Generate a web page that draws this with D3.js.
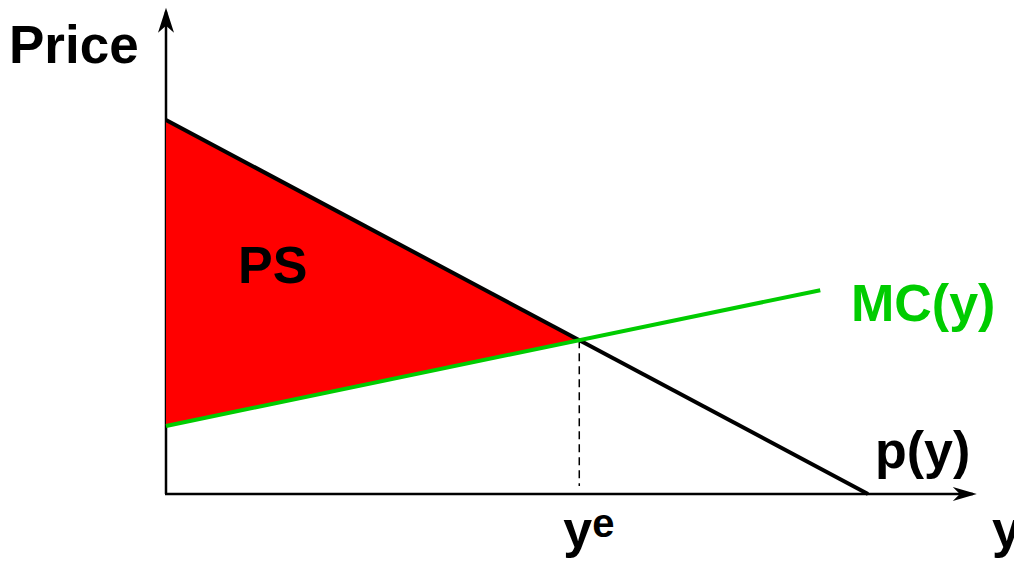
<!DOCTYPE html>
<html>
<head>
<meta charset="utf-8">
<script src="https://cdn.jsdelivr.net/npm/d3@7"></script>
<style>
  body { margin: 0; background: #fff; }
  text { font-family: "Liberation Sans", Arial, sans-serif; font-weight: bold; }
</style>
</head>
<body>
<div id="plot"></div>
<script>
// chart values (quantity, price)
const demandPts = [[0, 10], [10, 0]];
const mcPts = [[0, 1.82], [9.32, 5.45]];
const axisMax = {x: 11.55, y: 13.0};
const labels = {price: 'Price', ps: 'PS', mc: 'MC(y)', demand: 'p(y)', qty: 'y', eq: 'y', eqSup: 'e'};

const w = 1014, h = 561;
const svg = d3.select('#plot').append('svg').attr('width', w).attr('height', h);

const x = d3.scaleLinear().domain([0, 10]).range([166, 868]);
const y = d3.scaleLinear().domain([0, 10]).range([494, 120]);

//intersection of the two lines
const dSlope = (demandPts[1][1] - demandPts[0][1]) / (demandPts[1][0] - demandPts[0][0]);
const mSlope = (mcPts[1][1] - mcPts[0][1]) / (mcPts[1][0] - mcPts[0][0]);
const qe = (mcPts[0][1] - demandPts[0][1]) / (dSlope - mSlope);
const pe = demandPts[0][1] + dSlope * qe;

const line = d3.line().x(d => x(d[0])).y(d => y(d[1]));

//axes
svg.append('line')
  .attr('x1', x(0)).attr('y1', y(0)).attr('x2', x(0)).attr('y2', y(axisMax.y) + 4)
  .style('stroke', '#000').style('stroke-width', 2.5);
svg.append('line')
  .attr('x1', x(0) - 1).attr('y1', y(0)).attr('x2', x(axisMax.x) - 4).attr('y2', y(0))
  .style('stroke', '#000').style('stroke-width', 2.5);

//arrow heads
const ty = y(axisMax.y), tx = x(axisMax.x);
svg.append('path')
  .attr('d', `M${x(0)},${ty} L${x(0) - 8},${ty + 25} L${x(0)},${ty + 18} L${x(0) + 8},${ty + 25} Z`)
  .style('fill', '#000');
svg.append('path')
  .attr('d', `M${tx},${y(0)} L${tx - 24},${y(0) - 7} L${tx - 17},${y(0)} L${tx - 24},${y(0) + 7} Z`)
  .style('fill', '#000');

//producer surplus
svg.append('path')
  .attr('d', line([[0, demandPts[0][1]], [qe, pe], [0, mcPts[0][1]]]) + 'Z')
  .style('fill', '#ff0000');

//dashed guide
svg.append('line')
  .attr('x1', x(qe)).attr('y1', y(pe)).attr('x2', x(qe)).attr('y2', y(0) - 8)
  .style('stroke', '#000').style('stroke-width', 1.5).style('stroke-dasharray', '8,5');

//curves
svg.append('path').attr('d', line(demandPts))
  .style('fill', 'none').style('stroke', '#000').style('stroke-width', 4);
svg.append('path').attr('d', line(mcPts))
  .style('fill', 'none').style('stroke', '#00cc00').style('stroke-width', 4);

//labels
svg.append('text').attr('x', 9).attr('y', 63).style('font-size', '53px').text(labels.price);
svg.append('text').attr('x', 238).attr('y', 283).style('font-size', '52px').text(labels.ps);
svg.append('text').attr('x', 851).attr('y', 321).style('font-size', '52px')
  .style('fill', '#00cc00').text(labels.mc);
svg.append('text').attr('x', 875).attr('y', 468).style('font-size', '52px').text(labels.demand);
svg.append('text').attr('x', 992).attr('y', 547).style('font-size', '52px').text(labels.qty);
const eq = svg.append('text').attr('x', x(qe) - 16).attr('y', 547)
  .style('font-size', '52px');
eq.append('tspan').text(labels.eq);
eq.append('tspan').attr('dy', -10).style('font-size', '40px').text(labels.eqSup);
</script>
</body>
</html>
